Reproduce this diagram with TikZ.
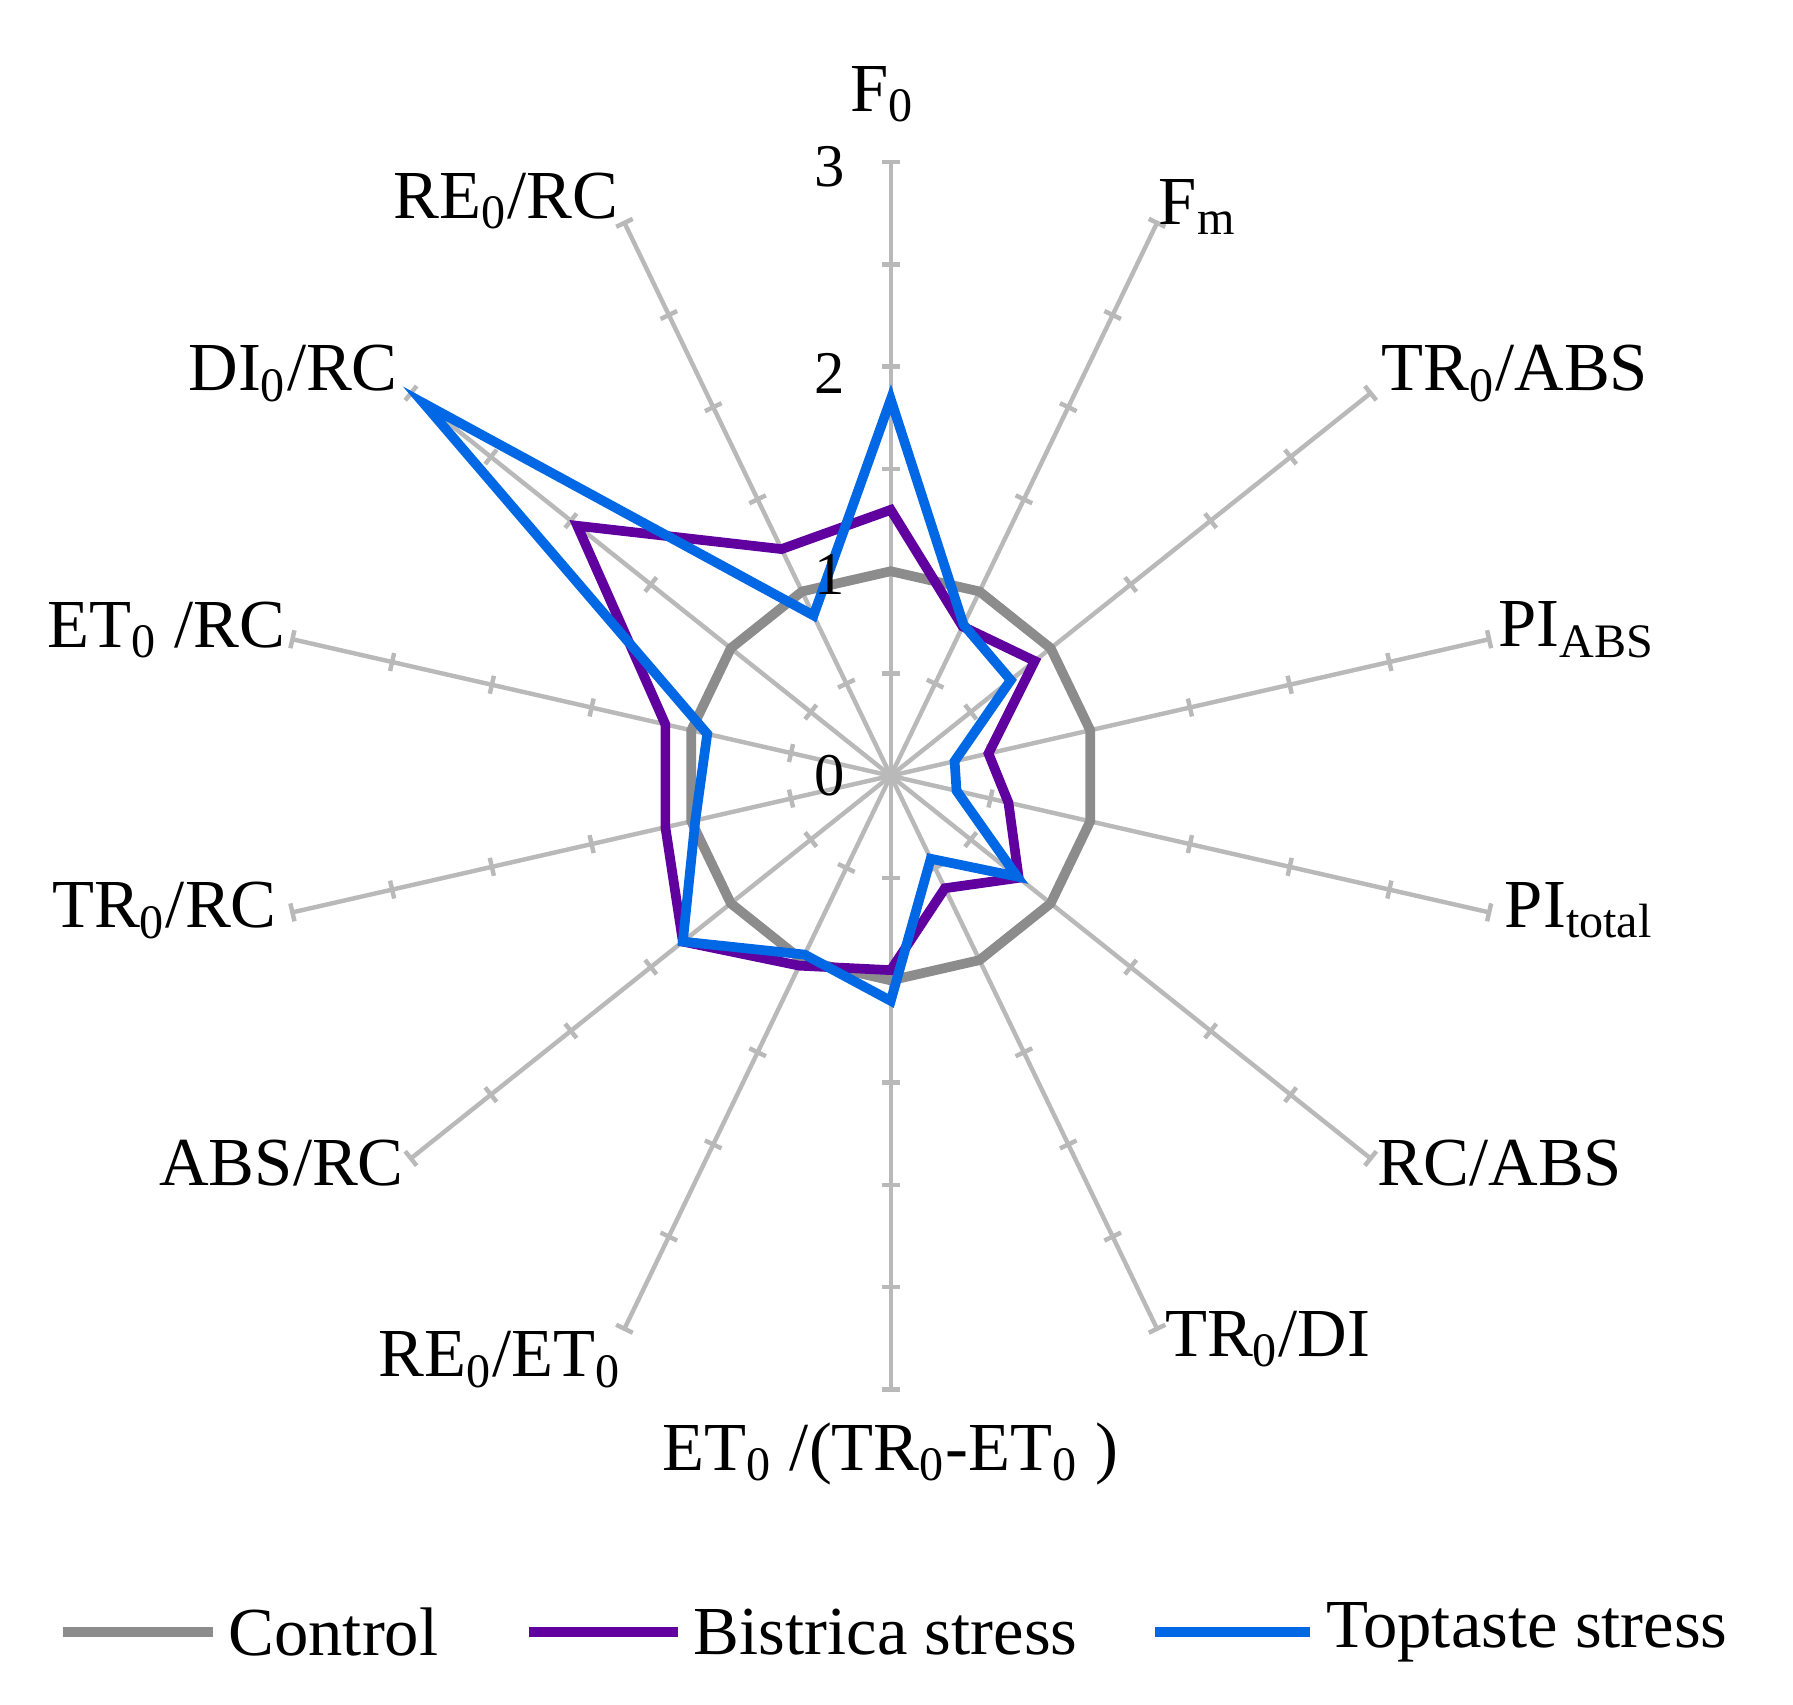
\documentclass[tikz,border=0pt]{standalone}
\usepackage{fontspec}
\setmainfont{Liberation Serif}
\begin{document}
\begin{tikzpicture}[x=0.01cm,y=-0.01cm,
  axis/.style={draw=gray!55,line width=1.1pt},
  ctrl/.style={draw=gray!90,line width=2.4pt,line join=miter},
  bis/.style={draw=violet!75!blue,line width=2.4pt,line join=miter},
  top/.style={draw=blue!55!cyan!90!black,line width=2.4pt,line join=miter},
  lab/.style={font=\fontsize{17}{19}\selectfont,inner sep=0pt},
  num/.style={font=\fontsize{15}{17}\selectfont,inner sep=0pt}]
\useasboundingbox (0,0) rectangle (1560,1483);
\def\U{178}
\coordinate (c) at (775,675);
% axes and ticks
\foreach \i in {0,...,13}{
  \pgfmathsetmacro{\s}{sin(\i*360/14)}
  \pgfmathsetmacro{\co}{cos(\i*360/14)}
  \coordinate (e\i) at ({775+3*\U*\s},{675-3*\U*\co});
  \draw[axis] (c) -- (e\i);
  \foreach \k in {1,...,6}{
    \draw[axis] ({775+\k*0.5*\U*\s+8*\co},{675-\k*0.5*\U*\co+8*\s}) -- ({775+\k*0.5*\U*\s-8*\co},{675-\k*0.5*\U*\co-8*\s});
  }
}
% data
\def\poly#1#2{%
  \foreach [count=\j from 0] \v in {#2}{
    \pgfmathsetmacro{\s}{sin(\j*360/14)}
    \pgfmathsetmacro{\co}{cos(\j*360/14)}
    \coordinate (#1\j) at ({775+\v*\U*\s},{675-\v*\U*\co});
  }}
\poly{g}{1,1,1,1,1,1,1,1,1,1,1,1,1,1}
\poly{p}{1.30,0.81,0.90,0.49,0.59,0.80,0.61,0.95,1.03,1.30,1.13,1.13,1.96,1.23}
\poly{b}{1.84,0.82,0.75,0.32,0.33,0.79,0.45,1.10,0.97,1.30,0.98,0.92,2.92,0.87}
\draw[ctrl] (g0)--(g1)--(g2)--(g3)--(g4)--(g5)--(g6)--(g7)--(g8)--(g9)--(g10)--(g11)--(g12)--(g13)--cycle;
\draw[bis] (p0)--(p1)--(p2)--(p3)--(p4)--(p5)--(p6)--(p7)--(p8)--(p9)--(p10)--(p11)--(p12)--(p13)--cycle;
\draw[top] (b0)--(b1)--(b2)--(b3)--(b4)--(b5)--(b6)--(b7)--(b8)--(b9)--(b10)--(b11)--(b12)--(b13)--cycle;
% scale numbers
\node[num] (n3) at (722,145) {3};
\node[num] (n2) at (722,325) {2};
\node[num] (n1) at (722,500) {1};
\node[num] (n0) at (722,675) {0};
% labels
\node[lab] (l0) at (768,82) {F\textsubscript{0}};
\node[lab] (l1) at (1042,180) {F\textsubscript{m}};
\node[lab] (l2) at (1318,325) {TR\textsubscript{0}/ABS};
\node[lab] (l3) at (1372,548) {PI\textsubscript{ABS}};
\node[lab] (l4) at (1374,792) {PI\textsubscript{total}};
\node[lab] (l5) at (1305,1012) {RC/ABS};
\node[lab] (l6) at (1103,1165) {TR\textsubscript{0}/DI};
\node[lab] (l7) at (775,1265) {ET\textsubscript{0} /(TR\textsubscript{0}-ET\textsubscript{0} )};
\node[lab] (l8) at (435,1183) {RE\textsubscript{0}/ET\textsubscript{0}};
\node[lab] (l9) at (245,1012) {ABS/RC};
\node[lab] (l10) at (143,792) {TR\textsubscript{0}/RC};
\node[lab] (l11) at (145,548) {ET\textsubscript{0} /RC};
\node[lab] (l12) at (255,325) {DI\textsubscript{0}/RC};
\node[lab] (l13) at (440,175) {RE\textsubscript{0}/RC};
% legend
\coordinate (ga) at (55,1420); \coordinate (gb) at (185,1420);
\coordinate (pa) at (460,1420); \coordinate (pb) at (590,1420);
\coordinate (ba) at (1005,1420); \coordinate (bb) at (1140,1420);
\draw[ctrl] (ga)--(gb);
\draw[bis] (pa)--(pb);
\draw[top] (ba)--(bb);
\node[lab,anchor=west] (tc) at (198,1420) {Control};
\node[lab,anchor=west] (tp) at (603,1420) {Bistrica stress};
\node[lab,anchor=west] (tt) at (1153,1420) {Toptaste stress};
\end{tikzpicture}
\end{document}
